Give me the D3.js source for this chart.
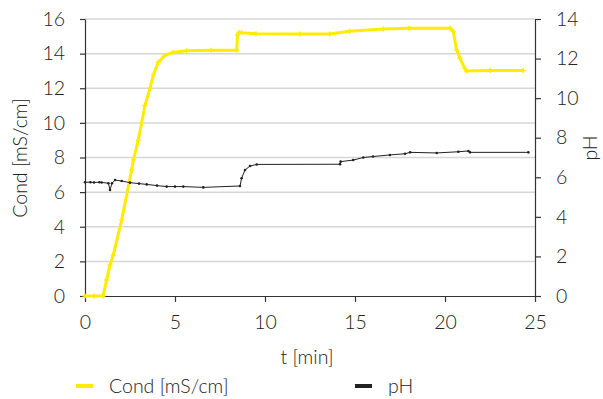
<!DOCTYPE html>
<html><head><meta charset="utf-8">
<script src="https://cdn.jsdelivr.net/npm/d3@7"></script>
<style>
html,body{margin:0;padding:0;background:#fff;}
svg text{font-family:Lato,"Noto Sans",sans-serif;font-weight:300;fill:#222;}
</style></head><body>
<svg id="c" width="603" height="399"></svg>
<script>
// ---- data ----
const condTime = [0, 0.5, 1.0, 1.2, 1.39, 1.57, 2.04, 2.59, 2.69, 2.96, 3.33, 3.61, 3.8, 4.07, 4.44, 4.9, 5.65, 7.0, 8.43, 8.47, 8.55, 8.7, 9.5, 11.94, 13.6, 14.7, 16.57, 18.0, 20.28, 20.46, 20.65, 20.83, 21.1, 21.2, 22.5, 24.35];
const condVals = [0, 0, 0, 0.92, 1.79, 2.37, 4.4, 7.28, 7.86, 9.0, 11.0, 12.0, 12.77, 13.5, 13.9, 14.08, 14.17, 14.2, 14.2, 15.08, 15.23, 15.2, 15.15, 15.14, 15.14, 15.29, 15.42, 15.47, 15.47, 15.28, 14.2, 13.73, 13.15, 13.0, 13.02, 13.02];
const pHTime = [0, 0.3, 0.5, 0.8, 0.93, 1.3, 1.39, 1.5, 1.67, 2.04, 2.5, 3.0, 3.43, 4.0, 4.54, 5.0, 5.46, 6.57, 8.61, 8.7, 8.89, 9.17, 9.54, 14.17, 14.2, 14.9, 15.46, 16.0, 16.94, 17.78, 18.06, 19.54, 20.74, 21.3, 21.39, 24.63];
const pHVals = [5.75, 5.75, 5.74, 5.75, 5.74, 5.7, 5.36, 5.7, 5.86, 5.81, 5.73, 5.68, 5.64, 5.58, 5.53, 5.53, 5.53, 5.49, 5.56, 5.95, 6.37, 6.57, 6.65, 6.66, 6.79, 6.87, 7.0, 7.05, 7.13, 7.19, 7.26, 7.23, 7.29, 7.33, 7.26, 7.26];
const xTicks = [0, 5, 10, 15, 20, 25];
const leftTicks = [0, 2, 4, 6, 8, 10, 12, 14, 16];
const rightTicks = [0, 2, 4, 6, 8, 10, 12, 14];
const seriesNames = ["Cond [mS/cm]", "pH"];
const xTitle = "t [min]", yLeftTitle = "Cond [mS/cm]", yRightTitle = "pH";

// ---- layout ----
const L = 85, R = 535, T = 19, B = 296, FS = "19.5px";
const yellow = "#ffec00", dark = "#222";
const svg = d3.select("#c");
const x = d3.scaleLinear().domain([0, 25]).range([L, R]);
const yL = d3.scaleLinear().domain([0, 16]).range([B, T]);
const yR = d3.scaleLinear().domain([0, 14]).range([B, T]);

// grid
svg.append("g").selectAll("line").data(leftTicks.filter(d => d > 0)).join("line")
  .attr("x1", L).attr("x2", R).attr("y1", d => yL(d)).attr("y2", d => yL(d))
  .attr("stroke", "#d6d6d6").attr("stroke-width", 1.5);

function styleAxis(g) {
  g.selectAll("path,line").attr("stroke", "#333").attr("stroke-width", 1.2);
  g.selectAll("text").style("font-size", FS).attr("fill", "#222");
}
svg.append("g").attr("transform", `translate(${L},0)`)
  .call(d3.axisLeft(yL).tickValues(leftTicks).tickSize(5).tickPadding(15).tickSizeOuter(0))
  .call(styleAxis);
svg.append("g").attr("transform", `translate(${R},0)`)
  .call(d3.axisRight(yR).tickValues(rightTicks).tickSize(6).tickPadding(15).tickSizeOuter(0))
  .call(styleAxis);
svg.append("g").attr("transform", `translate(0,${B})`)
  .call(d3.axisBottom(x).tickValues(xTicks).tickSize(6).tickPadding(13).tickSizeOuter(0))
  .call(styleAxis);

// cond line
const condData = condTime.map((t, i) => [t, condVals[i]]);
svg.append("path").datum(condData)
  .attr("d", d3.line().x(d => x(d[0])).y(d => yL(d[1])))
  .attr("fill", "none").attr("stroke", yellow).attr("stroke-width", 3);
svg.append("g").selectAll("path").data(condData).join("path")
  .attr("d", d => { const px = x(d[0]), py = yL(d[1]); return `M${px-2.5},${py}H${px+2.5}M${px},${py-2.5}V${py+2.5}`; })
  .attr("stroke", yellow).attr("stroke-width", 1.4);

// pH line
const pHData = pHTime.map((t, i) => [t, pHVals[i]]);
svg.append("path").datum(pHData)
  .attr("d", d3.line().x(d => x(d[0])).y(d => yR(d[1])))
  .attr("fill", "none").attr("stroke", dark).attr("stroke-width", 1);
svg.append("g").selectAll("circle").data(pHData).join("circle")
  .attr("cx", d => x(d[0])).attr("cy", d => yR(d[1])).attr("r", 1.3).attr("fill", dark);

// titles
svg.append("text").attr("x", 307).attr("y", 364).attr("text-anchor", "middle")
  .style("font-size", FS).text(xTitle);
svg.append("text").attr("transform", "translate(27,158) rotate(-90)").attr("text-anchor", "middle")
  .style("font-size", FS).text(yLeftTitle);
svg.append("text").attr("transform", "translate(597,148) rotate(-90)").attr("text-anchor", "middle")
  .style("font-size", FS).text(yRightTitle);

// legend
const leg = [{x: 76, c: yellow}, {x: 355, c: dark}];
leg.forEach((l, i) => {
  svg.append("rect").attr("x", l.x).attr("y", 384).attr("width", 17).attr("height", 4).attr("fill", l.c);
  svg.append("text").attr("x", l.x + 33).attr("y", 393).style("font-size", FS).text(seriesNames[i]);
});
</script></body></html>
